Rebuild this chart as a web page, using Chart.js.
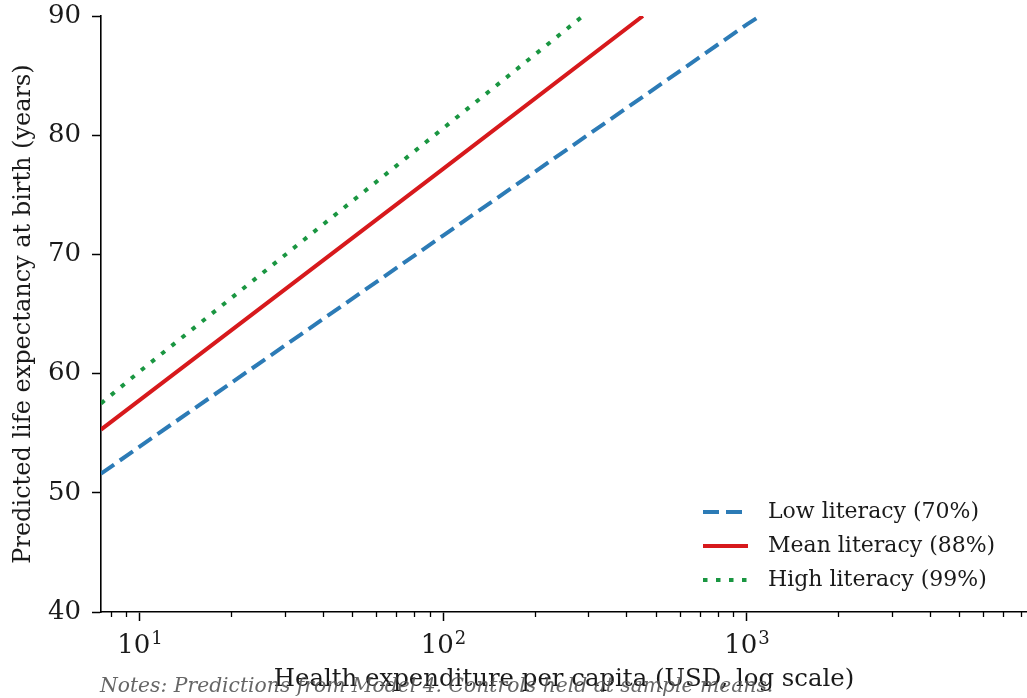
<!DOCTYPE html>
<html>
<head>
<meta charset="utf-8">
<script src="https://cdn.jsdelivr.net/npm/chart.js@4.4.1/dist/chart.umd.min.js"></script>
<style>
html,body{margin:0;padding:0;background:#fff;}
#wrap{width:1027px;height:698px;position:relative;}
</style>
</head>
<body>
<div id="wrap"><canvas id="c" width="1027" height="698"></canvas></div>
<script>
// Data
const lowX  = [7.44, 10, 100, 1000, 1104];
const lowY  = [51.6, 53.9, 71.6, 89.3, 90];
const meanX = [7.44, 10, 100, 454];
const meanY = [55.3, 57.8, 77.2, 90];
const highX = [7.44, 10, 100, 288];
const highY = [57.5, 60.2, 80.6, 90];
const seriesNames = ['Low literacy (70%)', 'Mean literacy (88%)', 'High literacy (99%)'];
const yTicks = [40, 50, 60, 70, 80, 90];
const xMajorTicks = [10, 100, 1000];
const xMajorExp = ['1', '2', '3'];
const notesText = 'Notes: Predictions from Model 4. Controls held at sample means.';

const FONT = "'DejaVu Serif', serif";
const colors = ['#2c7bb6', '#d7191c', '#1a9641'];
const dashes = [[16, 7], [], [4.5, 8.5]];

function pts(xs, ys){ return xs.map((x,i)=>({x:x, y:ys[i]})); }

const datasets = [
  {label: seriesNames[0], data: pts(lowX, lowY)},
  {label: seriesNames[1], data: pts(meanX, meanY)},
  {label: seriesNames[2], data: pts(highX, highY)}
].map((d,i)=>Object.assign(d, {
  borderColor: colors[i], backgroundColor: colors[i], borderWidth: 4,
  borderDash: dashes[i], pointRadius: 0, fill: false, tension: 0, clip: 0,
  borderCapStyle: 'butt'
}));

function isIntMultiple(v){
  const e = Math.floor(Math.log10(v) + 1e-9);
  const s = v / Math.pow(10, e);
  return Math.abs(s - Math.round(s)) < 1e-6;
}
function isPow10(v){
  const l = Math.log10(v);
  return Math.abs(l - Math.round(l)) < 1e-9;
}

const extras = {
  id: 'extras',
  afterDraw(chart){
    const ctx = chart.ctx;
    const xs = chart.scales.x;
    const area = chart.chartArea;
    // minor ticks
    ctx.save();
    ctx.strokeStyle = '#000';
    ctx.lineWidth = 1.3;
    xs.ticks.forEach(t=>{
      const v = t.value;
      if (v < xs.min || v > xs.max) return;
      if (!isIntMultiple(v) || isPow10(v)) return;
      const px = Math.round(xs.getPixelForValue(v)) + 0.5;
      ctx.beginPath();
      ctx.moveTo(px, area.bottom);
      ctx.lineTo(px, area.bottom + 5);
      ctx.stroke();
    });
    ctx.restore();
    // major x tick labels with superscript exponent
    ctx.save();
    ctx.fillStyle = '#1a1a1a';
    ctx.textBaseline = 'alphabetic';
    ctx.textAlign = 'left';
    xMajorTicks.forEach((v,i)=>{
      const px = xs.getPixelForValue(v);
      ctx.font = "26px " + FONT;
      const wb = ctx.measureText('10').width;
      ctx.font = "18px " + FONT;
      const we = ctx.measureText(xMajorExp[i]).width;
      const x0 = px - (wb + we + 1) / 2;
      ctx.font = "26px " + FONT;
      ctx.fillText('10', x0, 652.5);
      ctx.font = "18px " + FONT;
      ctx.fillText(xMajorExp[i], x0 + wb + 1, 643.5);
    });
    ctx.restore();
    // legend
    ctx.save();
    const lx0 = 703, lx1 = 748, tx = 768, ys = [512, 546, 580];
    chart.data.datasets.forEach((d,i)=>{
      ctx.strokeStyle = d.borderColor;
      ctx.lineWidth = d.borderWidth;
      ctx.setLineDash(d.borderDash);
      ctx.beginPath();
      ctx.moveTo(lx0, ys[i]);
      ctx.lineTo(lx1, ys[i]);
      ctx.stroke();
      ctx.setLineDash([]);
      ctx.fillStyle = '#1a1a1a';
      ctx.font = "22px " + FONT;
      ctx.textBaseline = 'middle';
      ctx.textAlign = 'left';
      ctx.fillText(d.label, tx, ys[i]);
    });
    ctx.restore();
    // notes
    ctx.save();
    ctx.fillStyle = 'rgba(85,85,85,0.9)';
    ctx.font = "italic 20.3px " + FONT;
    ctx.textBaseline = 'alphabetic';
    ctx.textAlign = 'left';
    ctx.fillText(notesText, 100, 692);
    ctx.restore();
  }
};

new Chart(document.getElementById('c'), {
  type: 'line',
  data: {datasets},
  plugins: [extras],
  options: {
    responsive: false,
    animation: false,
    events: [],
    layout: {padding: {left: 0, right: 0, top: 16, bottom: 0}},
    plugins: {legend: {display: false}, tooltip: {enabled: false}},
    scales: {
      x: {
        type: 'logarithmic',
        min: 7.44, max: 8370,
        border: {display: true, color: '#000', width: 1.6},
        grid: {
          drawOnChartArea: false, drawTicks: true, tickLength: 9, tickWidth: 1.5,
          tickColor: (c)=> (c.tick && isPow10(c.tick.value)) ? '#000' : 'rgba(0,0,0,0)'
        },
        ticks: {
          autoSkip: false, maxRotation: 0, minRotation: 0, padding: 6,
          font: {family: FONT, size: 26},
          callback: function(){ return ''; }
        },
        title: {
          display: true, text: 'Health expenditure per capita (USD, log scale)',
          color: '#1a1a1a', font: {family: FONT, size: 24.4}, padding: {top: 0, bottom: 4}
        },
        afterFit: (s)=>{ s.height = 86; s.paddingLeft = 0; s.paddingRight = 0; }
      },
      y: {
        type: 'linear', min: 40, max: 90,
        border: {display: true, color: '#000', width: 1.6},
        grid: {drawOnChartArea: false, drawTicks: true, tickLength: 9, tickWidth: 1.5, tickColor: '#000'},
        afterBuildTicks: (s)=>{ s.ticks = yTicks.map(v=>({value: v})); },
        ticks: {
          padding: 11, color: '#1a1a1a',
          font: {family: FONT, size: 26}
        },
        title: {
          display: true, text: 'Predicted life expectancy at birth (years)',
          color: '#1a1a1a', font: {family: FONT, size: 24}, padding: {top: 9, bottom: 0}
        },
        afterFit: (s)=>{ s.width = 101; s.paddingTop = 0; s.paddingBottom = 0; }
      }
    }
  }
});
</script>
</body>
</html>
